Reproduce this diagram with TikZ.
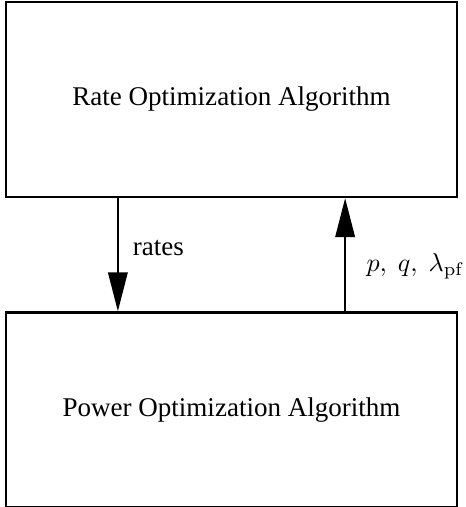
\documentclass[tikz,border=0pt]{standalone}
\usepackage[no-math]{fontspec}
\setmainfont{Liberation Serif}
\usepackage{amsmath}
\usetikzlibrary{positioning,arrows.meta}

\begin{document}
\begin{tikzpicture}[
        x=0.3846pt, y=-0.3846pt,
        every node/.style={font = \fontsize{10.4pt}{12.5pt}\selectfont},
        block/.style={
            rectangle, draw = black, line width = 0.9pt, minimum width = 173.5pt, minimum height = 75pt
        },
        flow/.style={
            line width = 0.8pt, -{Triangle[length=15pt,width=7.5pt]}
        },
    ]
        \useasboundingbox (0,0) rectangle (466,507);

        \node (rateAlgo) [block] at (231.5,99.5) {Rate Optimization Algorithm};
        \node (powerAlgo) [block,below=43.5pt of rateAlgo] {Power Optimization Algorithm};

        \path ([xshift=43.5pt]rateAlgo.south west) edge[flow] node[pos=0.44,right=2pt] {rates} ([xshift=43.5pt]powerAlgo.north west);
        \path ([xshift=-43.5pt]powerAlgo.north east) edge[flow] node[pos=0.4,right=4.5pt] {$p,\ q,\ \lambda_{\mathrm{pf}}$} ([xshift=-43.5pt]rateAlgo.south east);

    \end{tikzpicture}
\end{document}
